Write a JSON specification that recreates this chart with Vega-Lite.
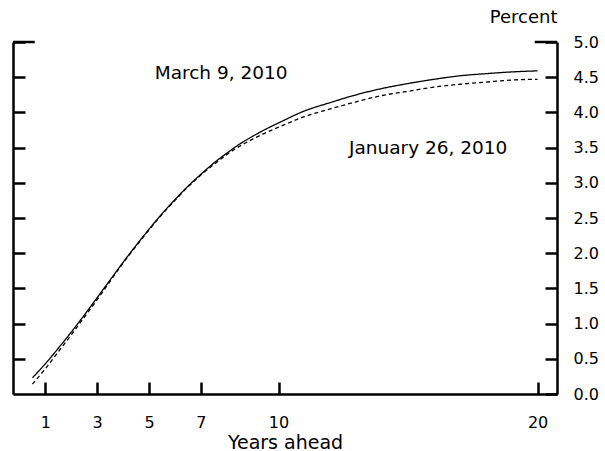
{
  "$schema": "https://vega.github.io/schema/vega-lite/v6.json",
  "width": 544,
  "height": 352,
  "autosize": "none",
  "padding": {"left": 13, "top": 42, "right": 48, "bottom": 57},
  "background": "white",
  "config": {
    "view": {"stroke": null},
    "font": "DejaVu Sans",
    "axis": {
      "grid": false,
      "domainColor": "black",
      "domainWidth": 2.5,
      "tickColor": "black",
      "tickWidth": 2.5,
      "tickSize": -12,
      "labelColor": "black",
      "labelFontSize": 16,
      "labelFont": "DejaVu Sans",
      "titleFont": "DejaVu Sans",
      "titleFontWeight": "normal",
      "titleColor": "black"
    }
  },
  "datasets": {
    "curves": [
      {"series": "March 9, 2010", "years": 0.5, "pct": 0.23},
      {"series": "March 9, 2010", "years": 1, "pct": 0.43},
      {"series": "March 9, 2010", "years": 1.5, "pct": 0.65},
      {"series": "March 9, 2010", "years": 2, "pct": 0.88},
      {"series": "March 9, 2010", "years": 2.5, "pct": 1.12},
      {"series": "March 9, 2010", "years": 3, "pct": 1.37},
      {"series": "March 9, 2010", "years": 3.5, "pct": 1.62},
      {"series": "March 9, 2010", "years": 4, "pct": 1.87},
      {"series": "March 9, 2010", "years": 4.5, "pct": 2.11},
      {"series": "March 9, 2010", "years": 5, "pct": 2.34},
      {"series": "March 9, 2010", "years": 5.5, "pct": 2.56},
      {"series": "March 9, 2010", "years": 6, "pct": 2.76},
      {"series": "March 9, 2010", "years": 6.5, "pct": 2.95},
      {"series": "March 9, 2010", "years": 7, "pct": 3.12},
      {"series": "March 9, 2010", "years": 7.5, "pct": 3.28},
      {"series": "March 9, 2010", "years": 8, "pct": 3.42},
      {"series": "March 9, 2010", "years": 8.5, "pct": 3.55},
      {"series": "March 9, 2010", "years": 9, "pct": 3.66},
      {"series": "March 9, 2010", "years": 9.5, "pct": 3.76},
      {"series": "March 9, 2010", "years": 10, "pct": 3.85},
      {"series": "March 9, 2010", "years": 11, "pct": 4.02},
      {"series": "March 9, 2010", "years": 12, "pct": 4.14},
      {"series": "March 9, 2010", "years": 13, "pct": 4.25},
      {"series": "March 9, 2010", "years": 14, "pct": 4.34},
      {"series": "March 9, 2010", "years": 15, "pct": 4.41},
      {"series": "March 9, 2010", "years": 16, "pct": 4.47},
      {"series": "March 9, 2010", "years": 17, "pct": 4.52},
      {"series": "March 9, 2010", "years": 18, "pct": 4.55},
      {"series": "March 9, 2010", "years": 19, "pct": 4.575},
      {"series": "March 9, 2010", "years": 20, "pct": 4.59},
      {"series": "January 26, 2010", "years": 0.5, "pct": 0.14},
      {"series": "January 26, 2010", "years": 1, "pct": 0.36},
      {"series": "January 26, 2010", "years": 1.5, "pct": 0.6},
      {"series": "January 26, 2010", "years": 2, "pct": 0.84},
      {"series": "January 26, 2010", "years": 2.5, "pct": 1.09},
      {"series": "January 26, 2010", "years": 3, "pct": 1.34},
      {"series": "January 26, 2010", "years": 3.5, "pct": 1.6},
      {"series": "January 26, 2010", "years": 4, "pct": 1.86},
      {"series": "January 26, 2010", "years": 4.5, "pct": 2.1},
      {"series": "January 26, 2010", "years": 5, "pct": 2.33},
      {"series": "January 26, 2010", "years": 5.5, "pct": 2.55},
      {"series": "January 26, 2010", "years": 6, "pct": 2.75},
      {"series": "January 26, 2010", "years": 6.5, "pct": 2.94},
      {"series": "January 26, 2010", "years": 7, "pct": 3.11},
      {"series": "January 26, 2010", "years": 7.5, "pct": 3.26},
      {"series": "January 26, 2010", "years": 8, "pct": 3.4},
      {"series": "January 26, 2010", "years": 8.5, "pct": 3.52},
      {"series": "January 26, 2010", "years": 9, "pct": 3.62},
      {"series": "January 26, 2010", "years": 9.5, "pct": 3.71},
      {"series": "January 26, 2010", "years": 10, "pct": 3.79},
      {"series": "January 26, 2010", "years": 11, "pct": 3.94},
      {"series": "January 26, 2010", "years": 12, "pct": 4.05},
      {"series": "January 26, 2010", "years": 13, "pct": 4.15},
      {"series": "January 26, 2010", "years": 14, "pct": 4.24},
      {"series": "January 26, 2010", "years": 15, "pct": 4.3},
      {"series": "January 26, 2010", "years": 16, "pct": 4.36},
      {"series": "January 26, 2010", "years": 17, "pct": 4.4},
      {"series": "January 26, 2010", "years": 18, "pct": 4.43},
      {"series": "January 26, 2010", "years": 19, "pct": 4.46},
      {"series": "January 26, 2010", "years": 20, "pct": 4.47}
    ],
    "labels": [
      {"label": "March 9, 2010", "years": 5.22, "pct": 4.56},
      {"label": "January 26, 2010", "years": 12.72, "pct": 3.49}
    ]
  },
  "layer": [
    {
      "data": {"name": "curves"},
      "mark": {"type": "line", "strokeWidth": 1.3, "interpolate": "monotone"},
      "encoding": {
        "x": {
          "field": "years",
          "type": "quantitative",
          "scale": {"domain": [-0.25, 20.75], "nice": false, "zero": false},
          "axis": {
            "orient": "bottom",
            "values": [1, 3, 5, 7, 10, 20],
            "labelPadding": 32,
            "title": "Years ahead",
            "titleFontSize": 19,
            "titlePadding": 3
          }
        },
        "y": {
          "field": "pct",
          "type": "quantitative",
          "scale": {"domain": [0, 5], "nice": false},
          "axis": {
            "orient": "right",
            "values": [0, 0.5, 1, 1.5, 2, 2.5, 3, 3.5, 4, 4.5, 5],
            "format": ".1f",
            "labelPadding": 28,
            "title": "Percent",
            "titleFontSize": 18,
            "titleAngle": 0,
            "titleAlign": "right",
            "titleBaseline": "alphabetic",
            "titleX": 0,
            "titleY": -20
          }
        },
        "detail": {"field": "series"},
        "strokeDash": {
          "field": "series",
          "type": "nominal",
          "scale": {"domain": ["March 9, 2010", "January 26, 2010"], "range": [[1, 0], [4, 3]]},
          "legend": null
        },
        "color": {"value": "black"}
      }
    },
    {
      "data": {"name": "curves"},
      "mark": {"type": "line", "opacity": 0},
      "encoding": {
        "x": {"field": "years", "type": "quantitative"},
        "y": {
          "field": "pct",
          "type": "quantitative",
          "axis": {
            "orient": "left",
            "values": [0.5, 1, 1.5, 2, 2.5, 3, 3.5, 4, 4.5, 5],
            "labels": false,
            "title": null
          }
        },
        "detail": {"field": "series"}
      }
    },
    {
      "data": {"values": [{}]},
      "mark": {"type": "rule", "strokeWidth": 2.5, "color": "black"},
      "encoding": {
        "x": {"datum": -0.25, "type": "quantitative"},
        "x2": {"datum": 0.59},
        "y": {"datum": 5, "type": "quantitative", "axis": null}
      }
    },
    {
      "data": {"values": [{}]},
      "mark": {"type": "rule", "strokeWidth": 2.5, "color": "black"},
      "encoding": {
        "x": {"datum": 19.89, "type": "quantitative"},
        "x2": {"datum": 20.75},
        "y": {"datum": 5, "type": "quantitative", "axis": null}
      }
    },
    {
      "data": {"name": "labels"},
      "mark": {"type": "text", "align": "left", "baseline": "middle", "fontSize": 18.5, "font": "DejaVu Sans", "color": "black"},
      "encoding": {
        "x": {"field": "years", "type": "quantitative"},
        "y": {"field": "pct", "type": "quantitative", "axis": null},
        "text": {"field": "label"}
      }
    }
  ],
  "resolve": {"axis": {"y": "independent"}}
}
